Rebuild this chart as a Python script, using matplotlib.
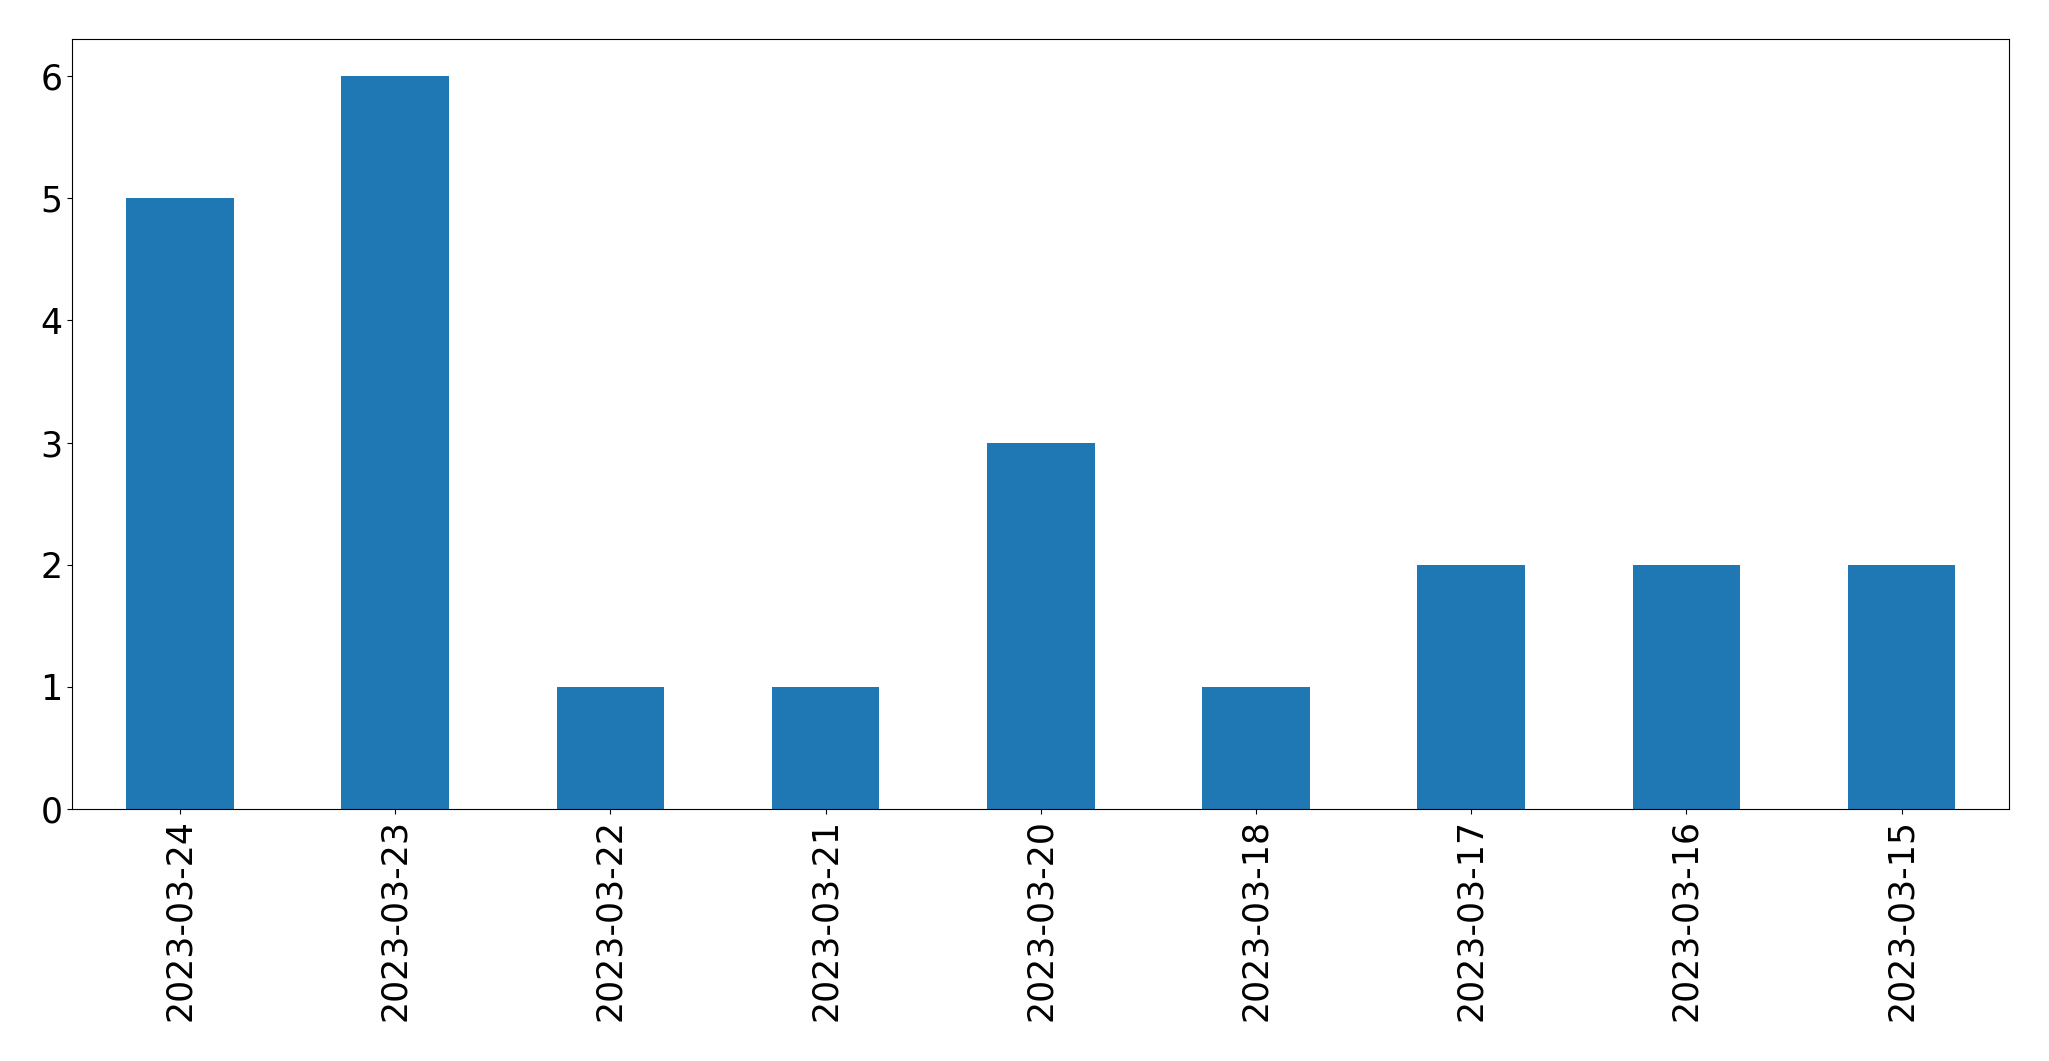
import matplotlib
matplotlib.use("Agg")
import matplotlib.pyplot as plt
import numpy as np

dates = ["2023-03-24", "2023-03-23", "2023-03-22", "2023-03-21", "2023-03-20",
         "2023-03-18", "2023-03-17", "2023-03-16", "2023-03-15"]
counts = [5, 6, 1, 1, 3, 1, 2, 2, 2]

fig = plt.figure(figsize=(20.49, 10.61), dpi=100)
ax = fig.add_axes([0.0353, 0.2375, 0.9453, 0.7254])

x = np.arange(len(dates))
ax.bar(x, counts, width=0.5, color="#1f77b4")
ax.set_xlim(-0.5, len(dates) - 0.5)
ax.set_ylim(0, max(counts) * 1.05)
ax.set_xticks(x)
ax.set_xticklabels(dates, rotation=90)
ax.tick_params(labelsize=25)

fig.savefig("out.png", dpi=100)
